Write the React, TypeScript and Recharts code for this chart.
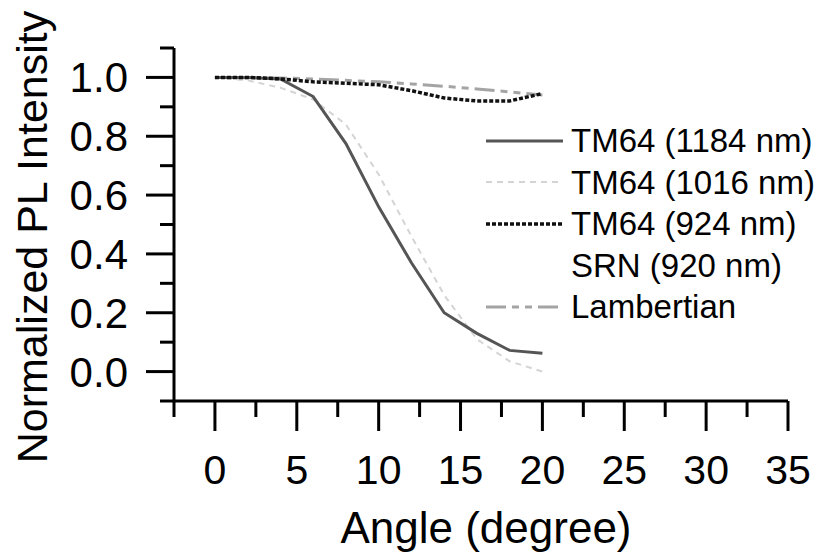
import { LineChart, Line, XAxis, YAxis, Legend, Label } from 'recharts';

// angle in degrees
const angles = [0, 2, 4, 6, 8, 10, 12, 14, 16, 18, 20];
const tm1184 = [1.0, 1.0, 0.995, 0.935, 0.775, 0.56, 0.37, 0.2, 0.13, 0.072, 0.062];
const tm1016 = [1.0, 0.99, 0.965, 0.925, 0.84, 0.67, 0.46, 0.26, 0.11, 0.035, 0.0];
const tm924 = [1.0, 1.0, 0.995, 0.985, 0.98, 0.975, 0.955, 0.93, 0.92, 0.92, 0.945];
const lambertian = [1.0, 0.999, 0.998, 0.995, 0.99, 0.985, 0.978, 0.97, 0.961, 0.951, 0.94];

const xTicks = [-2.5, 0, 2.5, 5, 7.5, 10, 12.5, 15, 17.5, 20, 22.5, 25, 27.5, 30, 32.5, 35];
const yTicks = [-0.1, 0, 0.1, 0.2, 0.3, 0.4, 0.5, 0.6, 0.7, 0.8, 0.9, 1.0, 1.1];

const data = angles.map((a, i) => ({
  angle: a,
  tm1184: tm1184[i],
  tm1016: tm1016[i],
  tm924: tm924[i],
  lambertian: lambertian[i],
}));

const FONT = '"Liberation Sans", Arial, Helvetica, sans-serif';

const legendItems = [
  { name: 'TM64 (1184 nm)', stroke: '#555', width: 3, dash: undefined },
  { name: 'TM64 (1016 nm)', stroke: '#d4d4d4', width: 2, dash: '6 5' },
  { name: 'TM64 (924 nm)', stroke: '#111', width: 3.5, dash: '4 2' },
  { name: 'SRN (920 nm)', stroke: 'none', width: 0, dash: undefined },
  { name: 'Lambertian', stroke: '#a4a4a4', width: 3, dash: '20 6 7 6 7 6' },
];

function XTick({ x, y, payload }: any) {
  const v = payload.value;
  const major = Math.abs(v % 5) < 1e-6;
  return (
    <g>
      <line x1={x} y1={y} x2={x} y2={y + (major ? 30 : 16)} stroke="#000" strokeWidth={3} />
      {major && (
        <text x={x} y={y + 83} textAnchor="middle" fontSize={41} fontFamily={FONT} fill="#000">
          {v}
        </text>
      )}
    </g>
  );
}

function YTick({ x, y, payload }: any) {
  const k = Math.round(payload.value * 10);
  const major = k >= 0 && k <= 10 && k % 2 === 0;
  return (
    <g>
      <line x1={x - (major ? 28 : 14)} y1={y} x2={x} y2={y} stroke="#000" strokeWidth={3} />
      {major && (
        <text x={x - 46} y={y + 15} textAnchor="end" fontSize={42} fontFamily={FONT} fill="#000">
          {(k / 10).toFixed(1)}
        </text>
      )}
    </g>
  );
}

function renderLegend() {
  return (
    <div style={{ fontFamily: FONT, fontSize: 33, color: '#000' }}>
      {legendItems.map(item => (
        <div key={item.name} style={{ display: 'flex', alignItems: 'center', height: 41.5, whiteSpace: 'nowrap' }}>
          <svg width={85} height={10}>
            {item.stroke !== 'none' && (
              <line x1={0} y1={5} x2={77} y2={5} stroke={item.stroke} strokeWidth={item.width} strokeDasharray={item.dash} />
            )}
          </svg>
          <span style={{ lineHeight: '41.5px' }}>{item.name}</span>
        </div>
      ))}
    </div>
  );
}

export default function App() {
  return (
    <div style={{ position: 'absolute', left: 0, top: 0, width: 817, height: 554, overflow: 'hidden', background: '#fff' }}>
      <LineChart width={817} height={554} data={data} margin={{ top: 48, right: 29, left: 0, bottom: 0 }}>
        <XAxis
          dataKey="angle"
          type="number"
          domain={[-2.5, 35]}
          ticks={xTicks}
          interval={0}
          height={153}
          axisLine={{ stroke: '#000', strokeWidth: 3 }}
          tickLine={false}
          tickSize={0}
          tickMargin={0}
          tick={<XTick />}
          allowDataOverflow
        >
          <Label
            content={() => (
              <text x={486} y={543} textAnchor="middle" fontSize={44} fontFamily={FONT} fill="#000">
                Angle (degree)
              </text>
            )}
          />
        </XAxis>
        <YAxis
          type="number"
          domain={[-0.1, 1.1]}
          ticks={yTicks}
          interval={0}
          width={174}
          axisLine={{ stroke: '#000', strokeWidth: 3 }}
          tickLine={false}
          tickSize={0}
          tickMargin={0}
          tick={<YTick />}
          allowDataOverflow
        >
          <Label
            content={() => (
              <text
                x={0}
                y={0}
                transform="translate(47 237) rotate(-90)"
                textAnchor="middle"
                fontSize={43}
                fontFamily={FONT}
                fill="#000"
              >
                Normalized PL Intensity
              </text>
            )}
          />
        </YAxis>
        <Legend
          layout="vertical"
          align="center"
          verticalAlign="middle"
          content={renderLegend}
          wrapperStyle={{ left: 486, top: 120, width: 331 }}
        />
        <Line dataKey="lambertian" name="Lambertian" stroke="#a4a4a4" strokeWidth={3} strokeDasharray="20 6 7 6 7 6" dot={false} isAnimationActive={false} />
        <Line dataKey="tm1016" name="TM64 (1016 nm)" stroke="#d4d4d4" strokeWidth={2} strokeDasharray="6 5" dot={false} isAnimationActive={false} />
        <Line dataKey="tm1184" name="TM64 (1184 nm)" stroke="#555" strokeWidth={3} dot={false} isAnimationActive={false} />
        <Line dataKey="tm924" name="TM64 (924 nm)" stroke="#111" strokeWidth={3.5} strokeDasharray="4 2" dot={false} isAnimationActive={false} />
      </LineChart>
    </div>
  );
}
